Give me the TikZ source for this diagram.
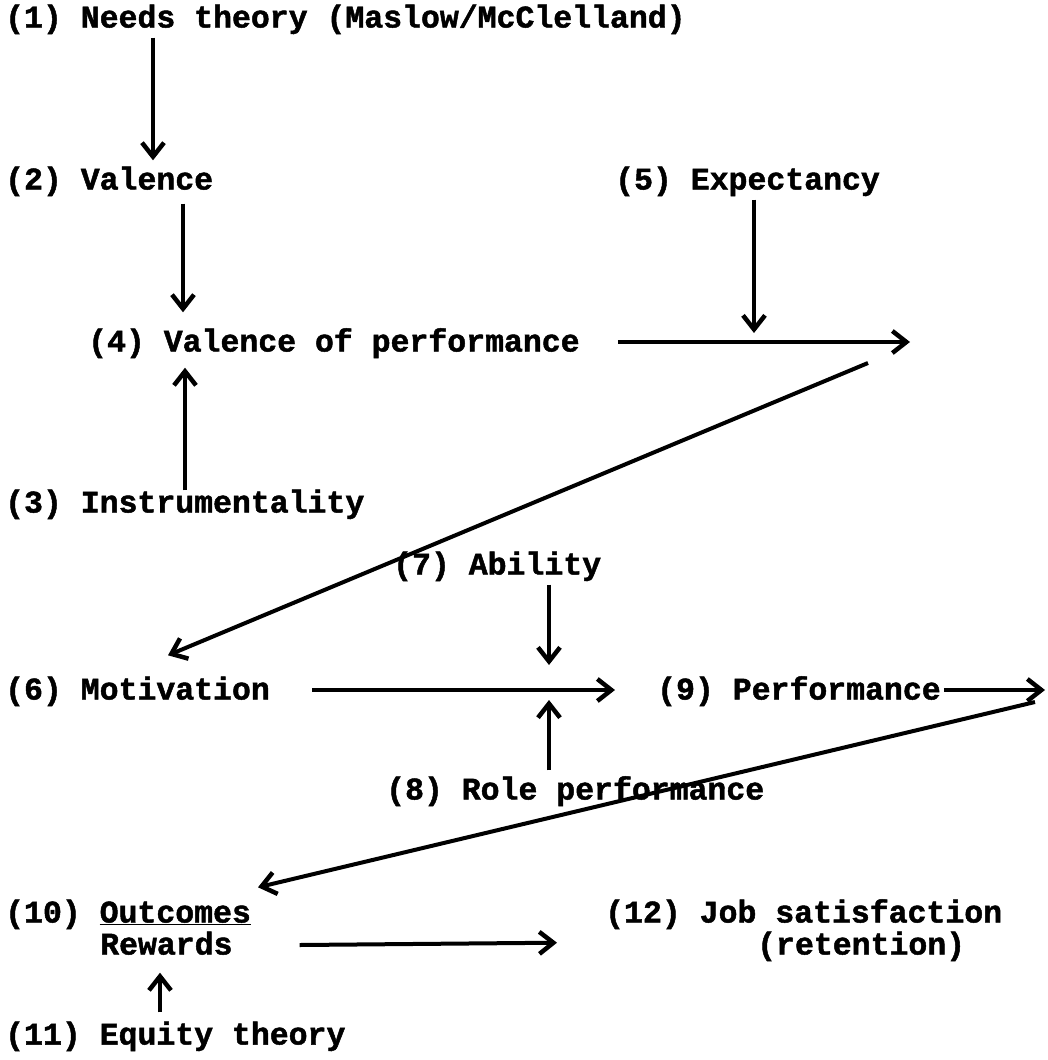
\documentclass[tikz,border=0pt]{standalone}
\usepackage{fontspec}
\setmainfont{Liberation Mono}[BoldFeatures={FakeBold=1.5}]
\usetikzlibrary{arrows.meta,calc}
\begin{document}
\begin{tikzpicture}[x=1pt,y=-1pt,
  lbl/.style={anchor=west,inner sep=0pt,text height=19pt,text depth=0pt,font=\fontsize{31.5}{34}\selectfont\bfseries},
  arr/.style={line width=4pt,-{Straight Barb[length=14pt,width=22pt,line width=4.5pt]}}]
\useasboundingbox[fill=white] (0,0) rectangle (1047,1060);
\node[lbl] (n1) at (5,18) {(1) Needs theory (Maslow/McClelland)};
\node[lbl] (n2) at (5,180) {(2) Valence};
\node[lbl] (n5) at (615,180) {(5) Expectancy};
\node[lbl] (n4) at (88,342) {(4) Valence of performance};
\node[lbl] (n3) at (5,503) {(3) Instrumentality};
\node[lbl] (n7) at (393,565) {(7) Ability};
\node[lbl] (n6) at (5,690) {(6) Motivation};
\node[lbl] (n9) at (657,690) {(9) Performance};
\node[lbl] (n8) at (386,790) {(8) Role performance};
\node[lbl] (n10) at (5,913) {(10) \underline{Outcomes}};
\node[lbl] (n10b) at (100,945) {Rewards};
\node[lbl] (n12) at (605,913) {(12) Job satisfaction};
\node[lbl] (n12b) at (757,945) {(retention)};
\node[lbl] (n11) at (5,1035) {(11) Equity theory};
\coordinate (p45) at (910,342);
\coordinate (q45) at (868,363);
\coordinate (p5) at (754,333);
\coordinate (p7) at (549,665);
\coordinate (p8) at (549,700);
\coordinate (p9) at (1045,690);
\coordinate (q9) at (1035,702);
% arrows
\draw[arr] ($(n1.south west)+(148,10)$) -- ($(n2.north west)+(148,-10)$);
\draw[arr] ($(n2.south west)+(178,14)$) -- ($(n4.north west)+(95,-20)$);
\draw[arr] ($(n3.north west)+(180,-3)$) -- ($(n4.south west)+(97,16)$);
\draw[arr] ($(n4.east)+(38,0)$) -- (p45);
\draw[arr] ($(n5.south west)+(139,10)$) -- (p5);
\draw[arr] (q45) -- ($(n6.north west)+(163,-25)$);
\draw[arr] ($(n7.south west)+(156,10)$) -- (p7);
\draw[arr] ($(n6.east)+(42,0)$) -- ($(n9.west)+(-42,0)$);
\draw[arr] ($(n8.north west)+(163,-10)$) -- (p8);
\draw[arr] ($(n9.east)+(3,0)$) -- (p9);
\draw[arr] (q9) -- ($(n10.north west)+(253,-16)$);
\draw[arr] ($(n10b.east)+(67,0)$) -- ($(n12.south west)+(-48,20)$);
\draw[arr] ($(n11.north west)+(155,-13)$) -- ($(n10b.south west)+(60,18)$);
\end{tikzpicture}
\end{document}
